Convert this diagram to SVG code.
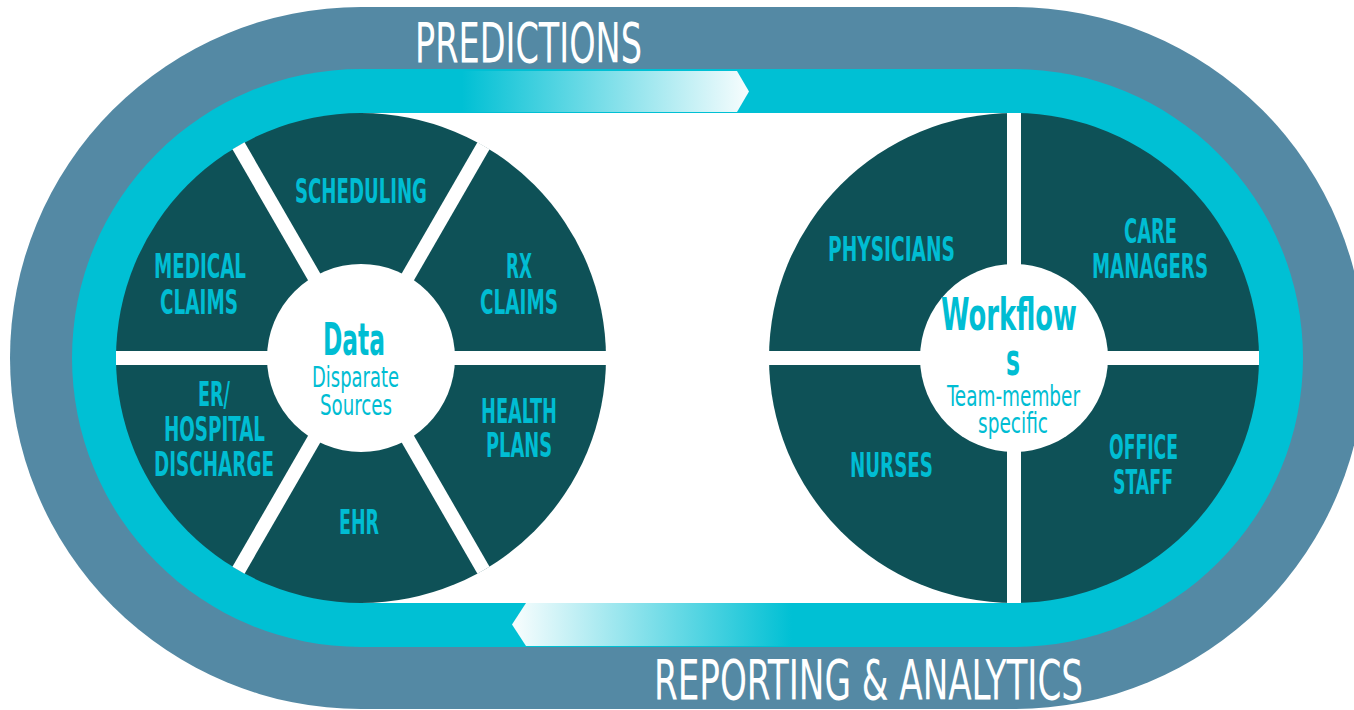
<svg xmlns="http://www.w3.org/2000/svg" width="1354" height="710" viewBox="0 0 1354 710">
  <style>
    .lbl { font-family: "Liberation Sans Narrow", "DejaVu Sans Condensed", "Liberation Sans", sans-serif; font-size: 34px; font-weight: bold; fill: #00bdd3; }
    .ctr { font-family: "Liberation Sans Narrow", "DejaVu Sans Condensed", "Liberation Sans", sans-serif; font-weight: bold; fill: #00bdd3; }
    .sub { font-family: "Liberation Sans Narrow", "DejaVu Sans Condensed", "Liberation Sans", sans-serif; font-size: 28px; fill: #00bdd3; }
    .band { font-family: "Liberation Sans Narrow", "DejaVu Sans Condensed", "Liberation Sans", sans-serif; font-size: 55px; fill: #ffffff; }
    .wheel { fill: #0e5157; }
    .spoke { stroke: #ffffff; stroke-width: 14; }
    .hub { fill: #ffffff; }
  </style>
  <defs>
    <linearGradient id="gTop" gradientUnits="userSpaceOnUse" x1="462" y1="0" x2="745" y2="0">
      <stop offset="0" stop-color="#00c0d4"/>
      <stop offset="1" stop-color="#f4fcfd"/>
    </linearGradient>
    <linearGradient id="gBot" gradientUnits="userSpaceOnUse" x1="518" y1="0" x2="792" y2="0">
      <stop offset="0" stop-color="#f4fcfd"/>
      <stop offset="1" stop-color="#00c0d4"/>
    </linearGradient>
  </defs>

  <g id="bands">
    <path d="M361,7 H1014 A351,351 0 0 1 1014,709 H361 A351,351 0 0 1 361,7 Z" fill="#5489a4"/>
    <path d="M361,69 H1014 A289,289 0 0 1 1014,647 H361 A289,289 0 0 1 361,69 Z" fill="#00c0d4"/>
    <rect x="361" y="113" width="653" height="490" fill="#ffffff"/>
    <text class="band" x="415" y="62" textLength="227" lengthAdjust="spacingAndGlyphs">PREDICTIONS</text>
    <text class="band" x="654" y="699" textLength="429" lengthAdjust="spacingAndGlyphs">REPORTING &amp; ANALYTICS</text>
  </g>

  <g id="connectors">
    <polygon points="455,71 737,71 749,91.5 737,112 455,112" fill="url(#gTop)"/>
    <polygon points="512,624.5 526,603 800,603 800,646 526,646" fill="url(#gBot)"/>
  </g>

  <g id="data-wheel">
    <circle class="wheel" cx="361" cy="358" r="245"/>
    <line class="spoke" x1="116" y1="358" x2="606" y2="358"/>
    <line class="spoke" x1="238.5" y1="145.8" x2="483.5" y2="570.2"/>
    <line class="spoke" x1="483.5" y1="145.8" x2="238.5" y2="570.2"/>
    <circle class="hub" cx="361" cy="358" r="94"/>
    <text class="lbl" x="295" y="203" textLength="132" lengthAdjust="spacingAndGlyphs">SCHEDULING</text>
    <text class="lbl" x="154" y="278" textLength="92" lengthAdjust="spacingAndGlyphs">MEDICAL</text>
    <text class="lbl" x="160" y="314" textLength="78" lengthAdjust="spacingAndGlyphs">CLAIMS</text>
    <text class="lbl" x="506" y="278" textLength="26" lengthAdjust="spacingAndGlyphs">RX</text>
    <text class="lbl" x="480" y="314" textLength="78" lengthAdjust="spacingAndGlyphs">CLAIMS</text>
    <text class="lbl" x="198" y="406" textLength="32" lengthAdjust="spacingAndGlyphs">ER/</text>
    <text class="lbl" x="164" y="441" textLength="101" lengthAdjust="spacingAndGlyphs">HOSPITAL</text>
    <text class="lbl" x="154" y="476" textLength="120" lengthAdjust="spacingAndGlyphs">DISCHARGE</text>
    <text class="lbl" x="481" y="423" textLength="76" lengthAdjust="spacingAndGlyphs">HEALTH</text>
    <text class="lbl" x="486" y="457" textLength="66" lengthAdjust="spacingAndGlyphs">PLANS</text>
    <text class="lbl" x="339" y="534" textLength="40" lengthAdjust="spacingAndGlyphs">EHR</text>
    <text class="ctr" x="323" y="355" font-size="44" textLength="62" lengthAdjust="spacingAndGlyphs">Data</text>
    <text class="sub" x="312" y="387" textLength="87" lengthAdjust="spacingAndGlyphs">Disparate</text>
    <text class="sub" x="320" y="415" textLength="72" lengthAdjust="spacingAndGlyphs">Sources</text>
  </g>

  <g id="workflows-wheel">
    <circle class="wheel" cx="1014" cy="358" r="245"/>
    <line class="spoke" x1="1014" y1="113" x2="1014" y2="603"/>
    <line class="spoke" x1="769" y1="358" x2="1259" y2="358"/>
    <circle class="hub" cx="1014" cy="358" r="94"/>
    <text class="lbl" x="828" y="261" textLength="127" lengthAdjust="spacingAndGlyphs">PHYSICIANS</text>
    <text class="lbl" x="1124" y="243" textLength="53" lengthAdjust="spacingAndGlyphs">CARE</text>
    <text class="lbl" x="1092" y="278" textLength="116" lengthAdjust="spacingAndGlyphs">MANAGERS</text>
    <text class="lbl" x="850" y="477" textLength="83" lengthAdjust="spacingAndGlyphs">NURSES</text>
    <text class="lbl" x="1109" y="459" textLength="69" lengthAdjust="spacingAndGlyphs">OFFICE</text>
    <text class="lbl" x="1113" y="494" textLength="60" lengthAdjust="spacingAndGlyphs">STAFF</text>
    <text class="ctr" x="941" y="330" font-size="45" textLength="136" lengthAdjust="spacingAndGlyphs">Workflow</text>
    <text class="ctr" x="1006" y="375" font-size="45" textLength="14" lengthAdjust="spacingAndGlyphs">s</text>
    <text class="sub" x="947" y="406" font-size="29" textLength="133" lengthAdjust="spacingAndGlyphs">Team-member</text>
    <text class="sub" x="978" y="433" font-size="29" textLength="70" lengthAdjust="spacingAndGlyphs">specific</text>
  </g>
</svg>
